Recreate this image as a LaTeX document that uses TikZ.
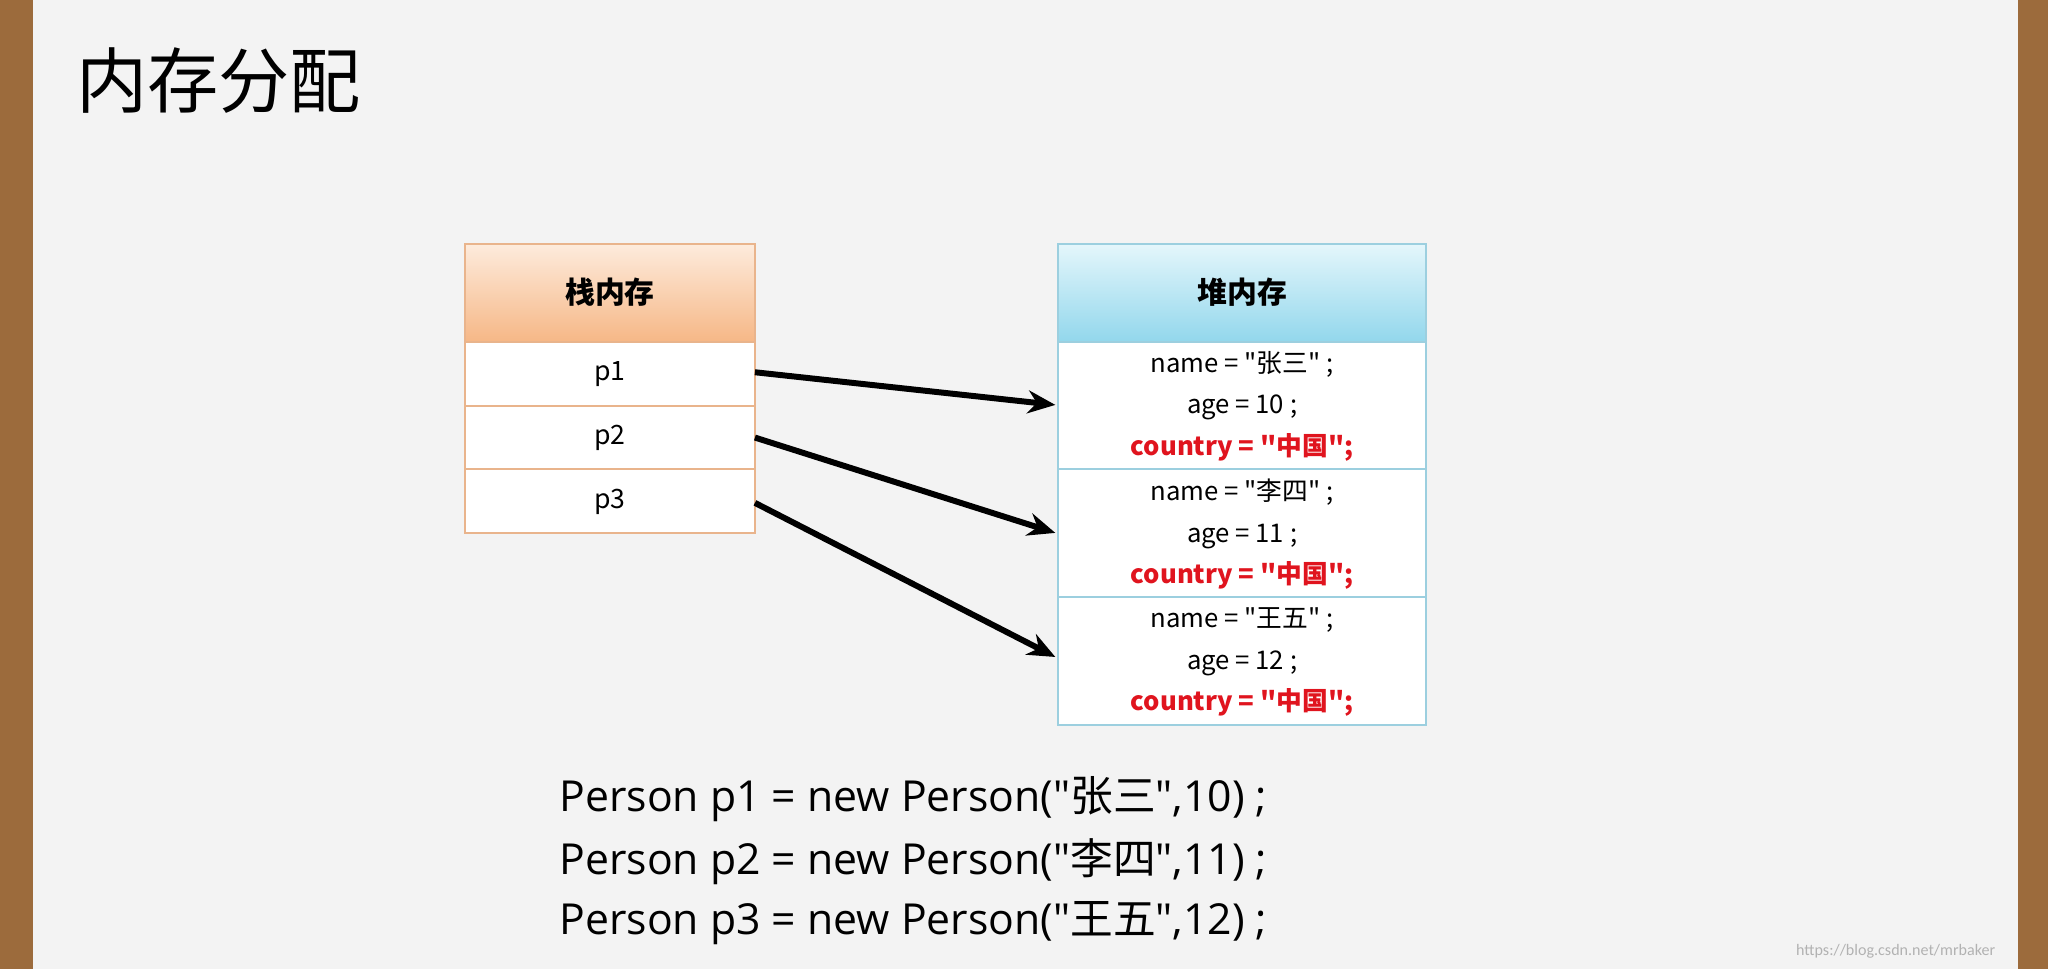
\documentclass[tikz,border=0pt]{standalone}
\usepackage{fontspec}
\setmainfont{Carlito}
\newfontfamily\cjk{Noto Sans CJK SC}
\newfontfamily\codefont{Open Sans}
\definecolor{wood}{HTML}{9C6B3C}
\definecolor{slide}{HTML}{F3F3F3}
\definecolor{org1}{HTML}{FDEBDC}
\definecolor{org2}{HTML}{F6B786}
\definecolor{orgline}{HTML}{E9B48C}
\definecolor{blu1}{HTML}{E4F6FB}
\definecolor{blu2}{HTML}{92D7EC}
\definecolor{bluline}{HTML}{9CCFDF}
\definecolor{redtxt}{HTML}{E0141E}
\tikzset{
  cell/.style={draw=#1, fill=white, line width=0.5pt},
  hdr/.style={font=\cjk\fontsize{6.5}{7}\selectfont\bfseries},
  htxt/.style={font=\cjk\fontsize{5.6}{9}\selectfont, align=center},
  code/.style={font=\codefont\fontsize{9.3}{11}\selectfont, anchor=west},
  ptr/.style={-{Stealth[length=6pt,width=5pt]}, line width=1.3pt}
}
\usetikzlibrary{arrows.meta}
\begin{document}
\begin{tikzpicture}[x=0.01cm,y=-0.01cm]
\useasboundingbox (0,0) rectangle (1568,742);
\fill[wood] (0,0) rectangle (1568,742);
\fill[slide] (25,0) rectangle (1545,742);
\node[anchor=west, font=\cjk\fontsize{15.5}{16}\selectfont] (title) at (46,62) {内存分配};
% stack
\shade[top color=org1,bottom color=org2] (356,187) rectangle (578,262);
\draw[orgline, line width=0.5pt] (356,187) rectangle (578,262);
\node[hdr] (sh) at (467,224) {栈内存};
\draw[cell=orgline] (356,262) rectangle (578,311);
\draw[cell=orgline] (356,311) rectangle (578,359);
\draw[cell=orgline] (356,359) rectangle (578,408);
\node[font=\cjk\fontsize{5.8}{7}\selectfont] (p1) at (467,286) {p1};
\node[font=\cjk\fontsize{5.8}{7}\selectfont] (p2) at (467,335) {p2};
\node[font=\cjk\fontsize{5.8}{7}\selectfont] (p3) at (467,384) {p3};
\coordinate (s1) at (578,285);
\coordinate (s2) at (578,335);
\coordinate (s3) at (578,385);
% heap
\shade[top color=blu1,bottom color=blu2] (810,187) rectangle (1092,262);
\draw[bluline, line width=0.5pt] (810,187) rectangle (1092,262);
\node[hdr] (hh) at (951,224) {堆内存};
\draw[cell=bluline] (810,262) rectangle (1092,359);
\draw[cell=bluline] (810,359) rectangle (1092,457);
\draw[cell=bluline] (810,457) rectangle (1092,555);
\node[htxt] (h1) at (951,311) {name = "张三" ;\\age = 10 ;\\\textcolor{redtxt}{\bfseries country = "中国";}};
\node[htxt] (h2) at (951,409) {name = "李四" ;\\age = 11 ;\\\textcolor{redtxt}{\bfseries country = "中国";}};
\node[htxt] (h3) at (951,507) {name = "王五" ;\\age = 12 ;\\\textcolor{redtxt}{\bfseries country = "中国";}};
\coordinate (t1) at (808,310);
\coordinate (t2) at (808,408);
\coordinate (t3) at (808,503);
\draw[ptr] (s1) -- (t1);
\draw[ptr] (s2) -- (t2);
\draw[ptr] (s3) -- (t3);
% code
\node[code] (c1) at (416,612) {Person p1 = new Person(\char34{\cjk 张三}\char34,10) ;};
\node[code] (c2) at (416,660) {Person p2 = new Person(\char34{\cjk 李四}\char34,11) ;};
\node[code] (c3) at (416,707) {Person p3 = new Person(\char34{\cjk 王五}\char34,12) ;};
\node[anchor=east, text=gray!60, font=\fontsize{3.5}{4}\selectfont] (wm) at (1540,728) {https://blog.csdn.net/mrbaker};
\end{tikzpicture}
\end{document}
